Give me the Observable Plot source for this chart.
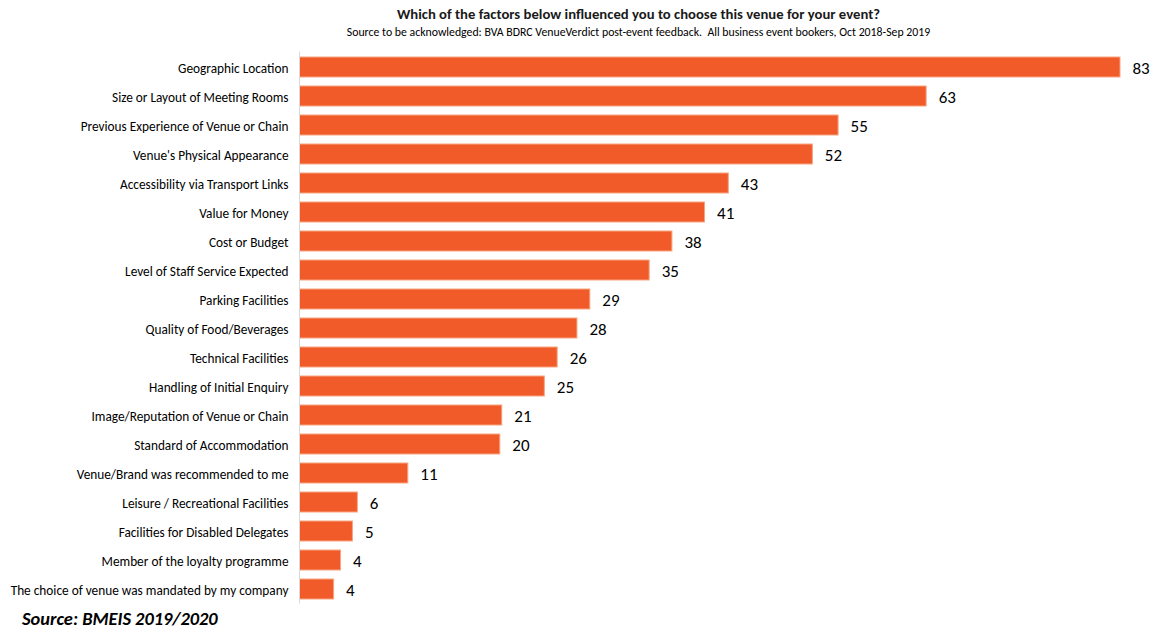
<!DOCTYPE html>
<html>
<head>
<meta charset="utf-8">
<script src="https://cdn.jsdelivr.net/npm/d3@7"></script>
<script src="https://cdn.jsdelivr.net/npm/@observablehq/plot@0.6"></script>
<style>
  html, body { margin: 0; padding: 0; background: #fff; }
  body { width: 1157px; height: 630px; position: relative; overflow: hidden;
         font-family: "Carlito", "Liberation Sans Narrow", "Roboto Condensed", "Liberation Sans", sans-serif; color: #000; }
  .title { position: absolute; left: 638.5px; top: 6px; transform: translateX(-50%); white-space: nowrap;
           font-weight: bold; font-size: 14.7px; line-height: 17px; color: #1a1a1a; }
  .subtitle { position: absolute; left: 638.5px; top: 25px; transform: translateX(-50%); white-space: nowrap;
           font-size: 11.8px; line-height: 14px; color: #000; }
  .caption { position: absolute; left: 22px; top: 609px; white-space: nowrap;
           font-weight: bold; font-style: italic; font-size: 18.4px; line-height: 20px; color: #000; }
  #chart { position: absolute; left: 0; top: 45px; }
</style>
</head>
<body>
<div class="title">Which of the factors below influenced you to choose this venue for your event?</div>
<div class="subtitle">Source to be acknowledged: BVA BDRC VenueVerdict post-event feedback.&nbsp; All business event bookers, Oct 2018-Sep 2019</div>
<div id="chart"></div>
<div class="caption">Source: BMEIS 2019/2020</div>
<script>
const categories = [
  "Geographic Location",
  "Size or Layout of Meeting Rooms",
  "Previous Experience of Venue or Chain",
  "Venue's Physical Appearance",
  "Accessibility via Transport Links",
  "Value for Money",
  "Cost or Budget",
  "Level of Staff Service Expected",
  "Parking Facilities",
  "Quality of Food/Beverages",
  "Technical Facilities",
  "Handling of Initial Enquiry",
  "Image/Reputation of Venue or Chain",
  "Standard of Accommodation",
  "Venue/Brand was recommended to me",
  "Leisure / Recreational Facilities",
  "Facilities for Disabled Delegates",
  "Member of the loyalty programme",
  "The choice of venue was mandated by my company"
];
// estimated underlying percentages (bar lengths)
const values = [83.0, 63.4, 54.5, 51.9, 43.4, 41.0, 37.7, 35.4, 29.4, 28.1, 26.1, 24.8, 20.5, 20.3, 11.0, 5.9, 5.4, 4.2, 3.5];
// labels as printed on the chart
const valueLabels = ["83", "63", "55", "52", "43", "41", "38", "35", "29", "28", "26", "25", "21", "20", "11", "6", "5", "4", "4"];

const data = categories.map((c, i) => ({category: c, value: values[i], label: valueLabels[i]}));

const chart = Plot.plot({
  width: 1157,
  height: 570,
  marginLeft: 299,
  marginRight: 37,
  marginTop: 6.5,
  marginBottom: 11.4,
  style: {fontFamily: "Carlito, 'Liberation Sans Narrow', 'Roboto Condensed', 'Liberation Sans', sans-serif", fontSize: "13px", color: "#000", background: "#fff"},
  x: {domain: [0, 83], axis: null},
  y: {domain: categories, paddingInner: 0.31, paddingOuter: 0.155, axis: null},
  marks: [
    Plot.barX(data, {x: "value", y: "category", fill: "#F15A29", stroke: "#F8A582", strokeWidth: 1, insetLeft: 0.5}),
    Plot.ruleX([0], {stroke: "#d9d9d9", strokeWidth: 1}),
    Plot.text(data, {x: "value", y: "category", text: "label", textAnchor: "start", dx: 12, dy: 1, fontSize: 17, fill: "#000"}),
    Plot.axisY({tickSize: 0, tickPadding: 11, fontSize: 13.3, dy: 1, label: null, fill: "#000"})
  ]
});
document.getElementById("chart").appendChild(chart);
</script>
</body>
</html>
